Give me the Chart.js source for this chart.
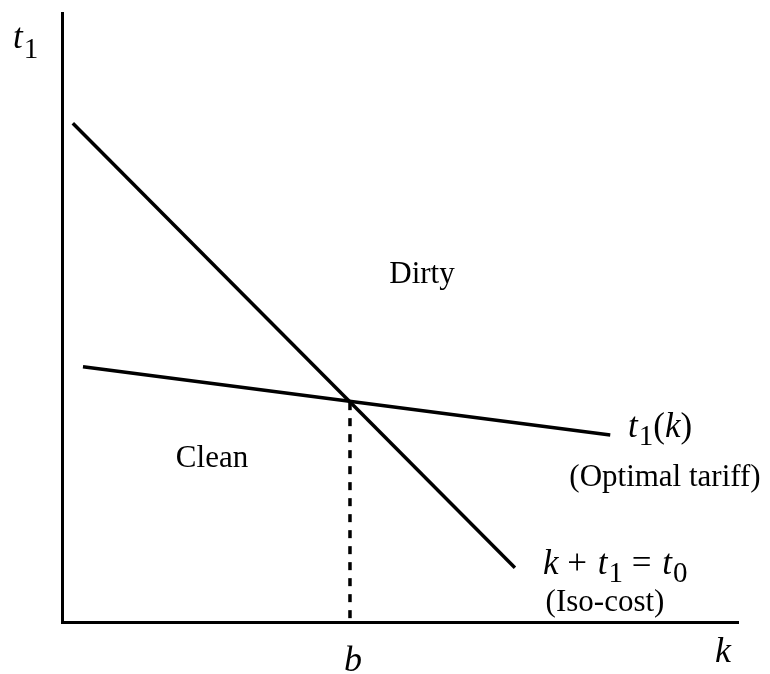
<!DOCTYPE html>
<html>
<head>
<meta charset="utf-8">
<script src="https://cdn.jsdelivr.net/npm/chart.js@4/dist/chart.umd.min.js"></script>
<style>
  html, body { margin: 0; padding: 0; background: #fff; }
  #wrap { width: 770px; height: 674px; }
</style>
</head>
<body>
<div id="wrap"><canvas id="diagram"></canvas></div>
<script>
// values (arbitrary 0-100 units on both axes)
const isoCostK = [1.6, 67.0];
const isoCostT = [81.9, 8.9];
const tariffK = [3.1, 81.1];
const tariffT = [41.9, 30.7];
const bK = [42.6, 42.6];
const bT = [36.1, 0];

const pts = (xs, ys) => xs.map((x, i) => ({ x: x, y: ys[i] }));

const SERIF = '"Liberation Serif", "Times New Roman", serif';

// draws a list of text runs one after the other
function drawRuns(ctx, x, y, runs, align) {
  let total = 0;
  runs.forEach(r => { ctx.font = r.font; total += ctx.measureText(r.text).width + (r.gap || 0); });
  let cx = align === 'center' ? x - total / 2 : x;
  runs.forEach(r => {
    ctx.font = r.font;
    ctx.fillText(r.text, cx, y + (r.dy || 0));
    cx += ctx.measureText(r.text).width + (r.gap || 0);
  });
}

const labelsPlugin = {
  id: 'labels',
  afterDraw(chart) {
    const ctx = chart.ctx;
    const it = '35px ' + SERIF, itI = 'italic 35px ' + SERIF, sub = '29px ' + SERIF, txt = '31px ' + SERIF;
    ctx.save();
    ctx.fillStyle = '#000';
    ctx.textBaseline = 'alphabetic';
    ctx.textAlign = 'left';

    drawRuns(ctx, 13, 48, [{ text: 't', font: itI, gap: 1 }, { text: '1', font: sub, dy: 10 }]);
    drawRuns(ctx, 628, 437, [
      { text: 't', font: itI, gap: 1 }, { text: '1', font: sub, dy: 8 },
      { text: '(', font: it }, { text: 'k', font: itI }, { text: ')', font: it }
    ]);
    drawRuns(ctx, 543, 574, [
      { text: 'k', font: itI }, { text: ' + ', font: it, gap: 2 }, { text: 't', font: itI, gap: 1 },
      { text: '1', font: sub, dy: 8 }, { text: ' = ', font: it, gap: 2 },
      { text: 't', font: itI, gap: 1 }, { text: '0', font: sub, dy: 8 }
    ]);
    drawRuns(ctx, 665, 486, [{ text: '(Optimal tariff)', font: txt }], 'center');
    drawRuns(ctx, 605, 611, [{ text: '(Iso-cost)', font: txt }], 'center');
    drawRuns(ctx, 422, 283, [{ text: 'Dirty', font: txt }], 'center');
    drawRuns(ctx, 212, 467, [{ text: 'Clean', font: txt }], 'center');
    drawRuns(ctx, 353, 671, [{ text: 'b', font: 'italic 36px ' + SERIF }], 'center');
    drawRuns(ctx, 723, 662, [{ text: 'k', font: 'italic 36px ' + SERIF }], 'center');
    ctx.restore();
  }
};

const ctx = document.getElementById('diagram').getContext('2d');
new Chart(ctx, {
  type: 'scatter',
  data: {
    datasets: [
      { data: pts(isoCostK, isoCostT), showLine: true, borderColor: '#000', borderWidth: 3.5, pointRadius: 0 },
      { data: pts(tariffK, tariffT), showLine: true, borderColor: '#000', borderWidth: 3.5, pointRadius: 0 },
      { data: pts(bK, bT), showLine: true, borderColor: '#000', borderWidth: 3.5, borderDash: [8, 8], pointRadius: 0 }
    ]
  },
  options: {
    responsive: true,
    maintainAspectRatio: false,
    animation: false,
    events: [],
    layout: { padding: { left: 62, top: 13, right: 32, bottom: 52 } },
    plugins: { legend: { display: false }, tooltip: { enabled: false } },
    scales: {
      x: {
        type: 'linear', min: 0, max: 100,
        ticks: { display: false },
        grid: { display: false, drawTicks: false },
        border: { display: true, color: '#000', width: 3 },
        afterFit: s => { s.height = 0; }
      },
      y: {
        type: 'linear', min: 0, max: 100,
        ticks: { display: false },
        grid: { display: false, drawTicks: false },
        border: { display: true, color: '#000', width: 3 },
        afterFit: s => { s.width = 0; }
      }
    }
  },
  plugins: [labelsPlugin]
});
</script>
</body>
</html>
